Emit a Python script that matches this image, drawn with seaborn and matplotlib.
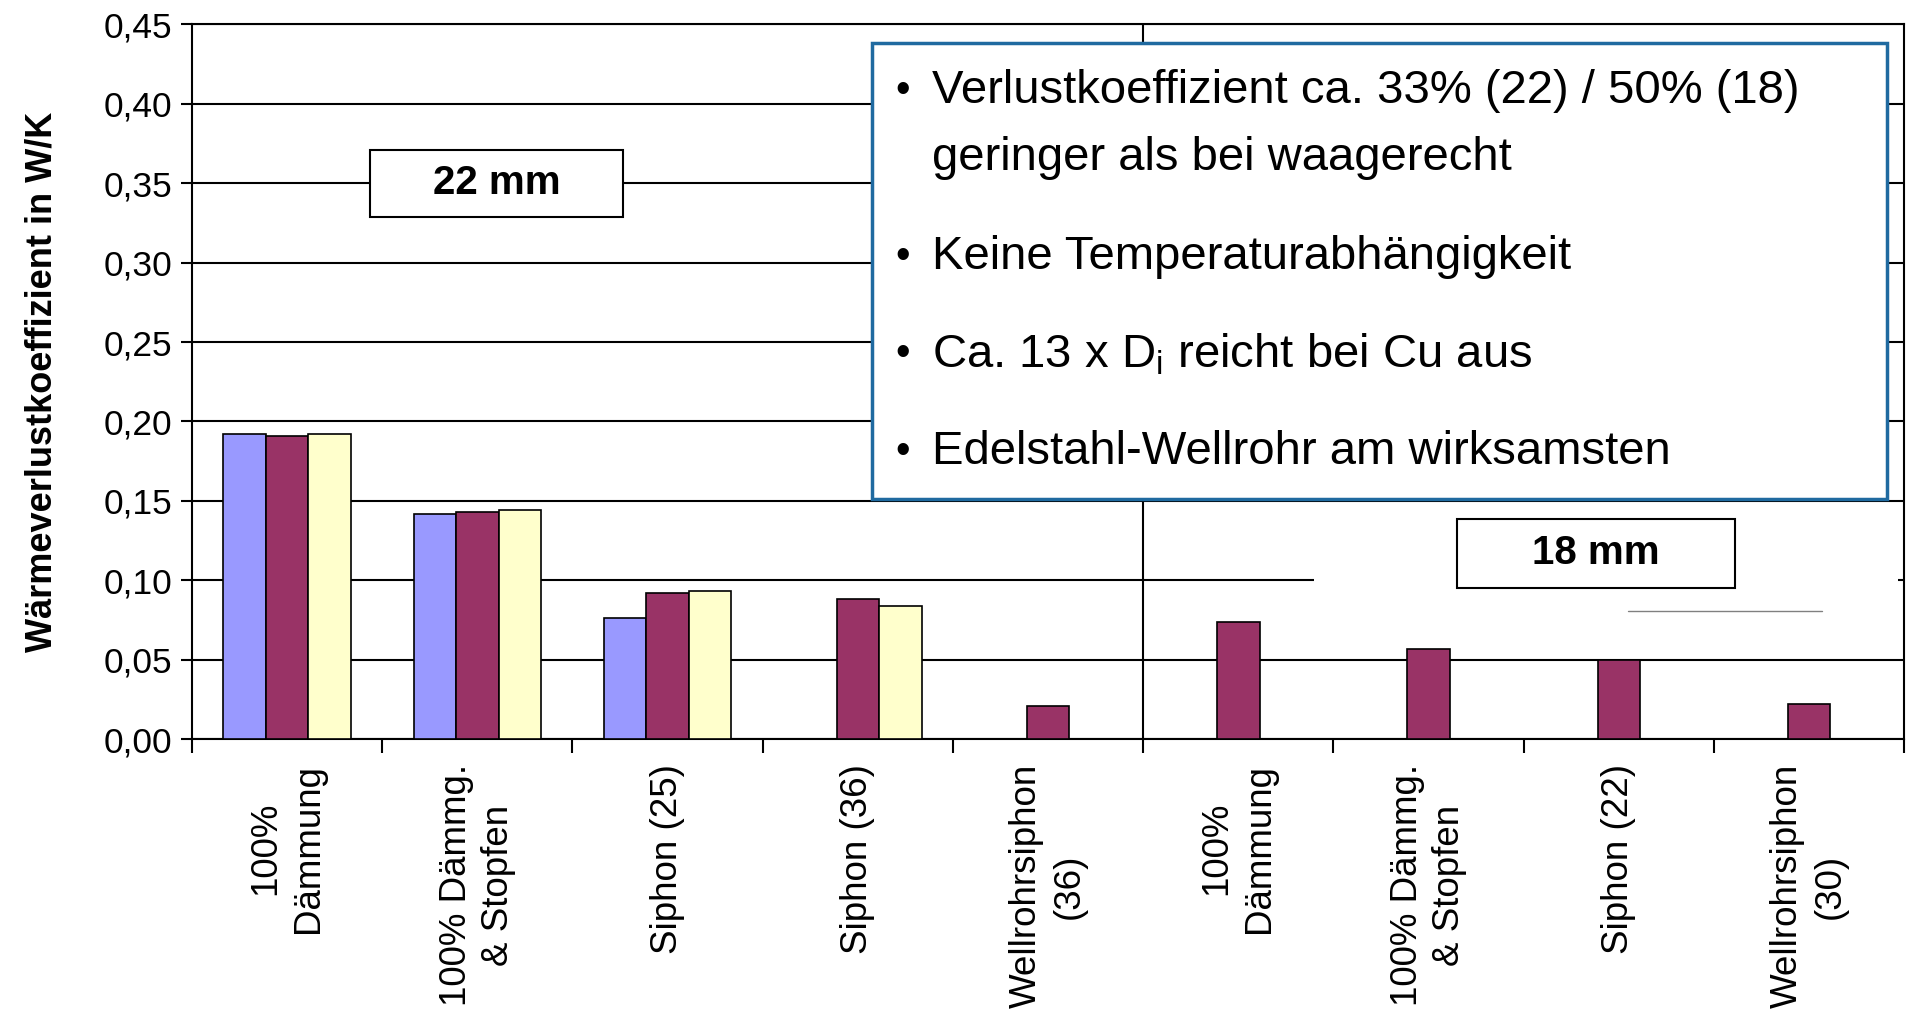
import matplotlib
matplotlib.use('Agg')
import matplotlib.pyplot as plt
from matplotlib.patches import Rectangle
from matplotlib.ticker import FuncFormatter, FixedLocator
import seaborn as sns
import pandas as pd
import numpy as np

# Kategorien (22 mm links, 18 mm rechts)
gruppen = ['22 mm'] * 5 + ['18 mm'] * 4
kategorien = ['100%\nDämmung', '100% Dämmg.\n& Stopfen', 'Siphon (25)', 'Siphon (36)',
              'Wellrohrsiphon\n(36)',
              '100%\nDämmung', '100% Dämmg.\n& Stopfen', 'Siphon (22)',
              'Wellrohrsiphon\n(30)']
serien = ['Serie 1', 'Serie 2', 'Serie 3']
serie_1 = [0.192, 0.142, 0.076, np.nan, np.nan, np.nan, np.nan, np.nan, np.nan]
serie_2 = [0.191, 0.143, 0.092, 0.088, 0.021, 0.074, 0.057, 0.050, 0.022]
serie_3 = [0.192, 0.144, 0.093, 0.084, np.nan, np.nan, np.nan, np.nan, np.nan]
farben = ['#9999FF', '#993366', '#FFFFCC']

stichpunkte = [
    'Verlustkoeffizient ca. 33% (22) / 50% (18)\ngeringer als bei waagerecht',
    'Keine Temperaturabhängigkeit',
    'Ca. 13 x D$_\\mathregular{i}$ reicht bei Cu aus',
    'Edelstahl-Wellrohr am wirksamsten',
]

pos = [f'{g} {k}' for g, k in zip(gruppen, kategorien)]
rows = []
for name, werte in zip(serien, [serie_1, serie_2, serie_3]):
    for p, w in zip(pos, werte):
        if not np.isnan(w):
            rows.append({'pos': p, 'serie': name, 'wert': w})
df = pd.DataFrame(rows)

sns.set_theme(style='white')
plt.rcParams['font.family'] = ['Liberation Sans', 'DejaVu Sans']
plt.rcParams['mathtext.default'] = 'regular'
plt.rcParams['text.color'] = 'black'
plt.rcParams['axes.labelcolor'] = 'black'
plt.rcParams['xtick.color'] = 'black'
plt.rcParams['ytick.color'] = 'black'

fig = plt.figure(figsize=(19.08, 10.14), dpi=100)
ax = fig.add_axes([0.1006, 0.271, 0.8974, 0.705])

sns.barplot(data=df, x='pos', y='wert', hue='serie', order=pos, hue_order=serien,
            palette=farben, width=0.67, edgecolor='black', linewidth=1.2,
            errorbar=None, legend=False, saturation=1, ax=ax, zorder=3)

ax.set_ylim(0, 0.45)
ax.set_xlim(-0.5, len(pos) - 0.5)
ax.set_yticks(np.arange(0, 0.451, 0.05))
ax.yaxis.set_major_formatter(FuncFormatter(lambda v, _: f'{v:.2f}'.replace('.', ',')))
ax.yaxis.grid(True, color='black', linewidth=1.5, zorder=0)
ax.set_axisbelow(True)

ax.set_xticks(range(len(pos)))
ax.set_xticklabels(kategorien, rotation=90, fontsize=26.5, va='top', ha='center',
                   linespacing=1.28)
ax.xaxis.set_minor_locator(FixedLocator(np.arange(-0.5, len(pos), 1.0)))
ax.tick_params(axis='x', which='major', length=0, pad=18)
ax.tick_params(axis='x', which='minor', length=10, width=1.5, color='black', direction='out', bottom=True)
ax.tick_params(axis='y', which='major', length=8, width=1.5, color='black', direction='out',
               left=True, labelsize=25.5, pad=6)
ax.set_xlabel('')
ax.set_ylabel('Wärmeverlustkoeffizient in W/K', fontsize=26, fontweight='bold', labelpad=32)

for s in ax.spines.values():
    s.set_color('black')
    s.set_linewidth(1.5)

# Trennlinie zwischen 22 mm und 18 mm
ax.axvline(4.5, color='black', linewidth=1.5, zorder=1)

# weisse Flaeche rechts unten (ueberdeckt Gitterlinie)
ax.add_patch(Rectangle((5.4, 0.085), 3.07, 0.064, facecolor='white', edgecolor='none', zorder=2))
ax.plot([7.05, 8.07], [0.0805, 0.0805], color='#808080', linewidth=1, zorder=2)

# Beschriftungskaesten
ax.add_patch(Rectangle((0.434, 0.329), 1.331, 0.042, facecolor='white', edgecolor='black',
                       linewidth=1.5, zorder=4))
ax.text(1.1, 0.350, '22 mm', ha='center', va='center', fontsize=29, fontweight='bold', zorder=5)
ax.add_patch(Rectangle((6.147, 0.0951), 1.465, 0.0437, facecolor='white', edgecolor='black',
                       linewidth=1.5, zorder=4))
ax.text(6.88, 0.117, '18 mm', ha='center', va='center', fontsize=29, fontweight='bold', zorder=5)

# Textkasten mit Stichpunkten
ax.add_patch(Rectangle((3.077, 0.151), 5.333, 0.287, facecolor='white', edgecolor='#1F6AA0',
                       linewidth=2.5, zorder=6))
zeilen_y = [[0.408, 0.366], [0.3037], [0.2423], [0.181]]
for ys, txt in zip(zeilen_y, stichpunkte):
    ax.text(3.20, ys[0], '•', ha='left', va='center', fontsize=30, zorder=7)
    for y, zeile in zip(ys, txt.split('\n')):
        ax.text(3.39, y, zeile, ha='left', va='center', fontsize=34, zorder=7)

fig.savefig('out.png', dpi=100)
